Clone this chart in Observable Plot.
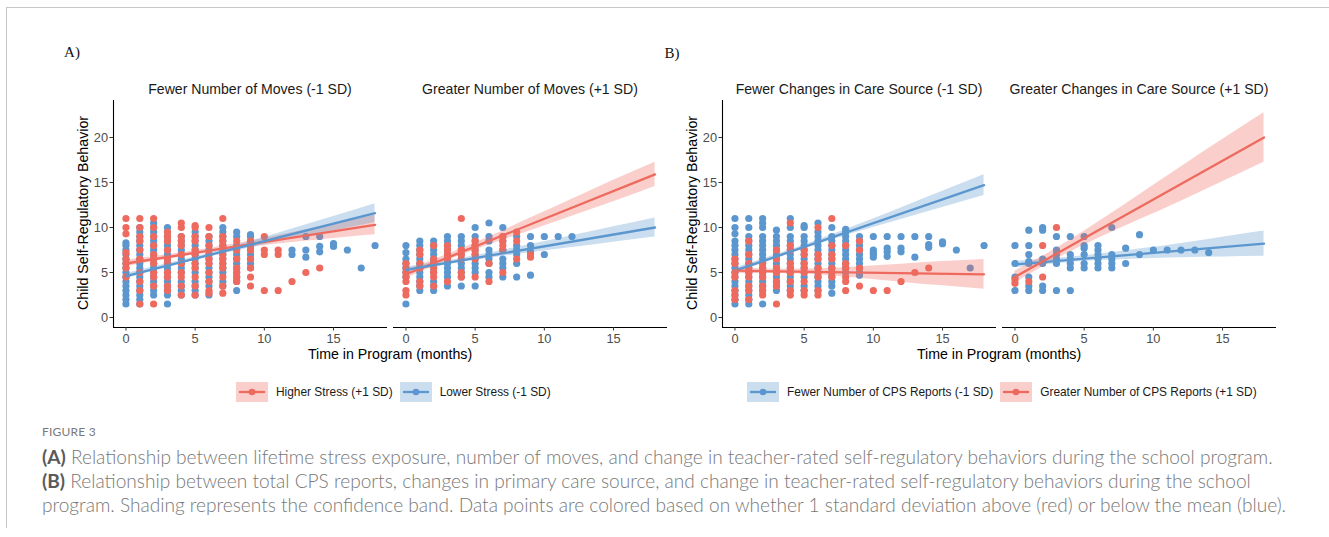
<!DOCTYPE html>
<html><head><meta charset="utf-8">
<script src="https://cdn.jsdelivr.net/npm/d3@7"></script>
<script src="https://cdn.jsdelivr.net/npm/@observablehq/plot@0.6"></script>
<style>
html,body{margin:0;padding:0;background:#fff;}
#page{position:relative;width:1329px;height:537px;overflow:hidden;font-family:"Liberation Sans",Arial,sans-serif;}
.abs{position:absolute;white-space:nowrap;}
.c{transform:translate(-50%,-50%);line-height:1;}
#frame{position:absolute;left:6px;top:7px;width:1340px;height:520px;border-top:1px solid #c8c8c8;border-left:1px solid #c8c8c8;}
.cap{position:absolute;left:42px;white-space:nowrap;font-family:"Lato","Open Sans",sans-serif;font-weight:300;color:#787878;line-height:1;}
.cap b{font-weight:700;color:#5a5a5a;}
</style></head>
<body><div id="page"><div id="frame"></div></div>
<script>
const RED = "#EE6A5E", BLUE = "#5B97CE";
const xTicks = [0, 5, 10, 15];
const yTicks = [0, 5, 10, 15, 20];
const xDomain = [-0.9, 18.9];
const yDomain = [-1.11, 24.11];
const panelLabels = ["A)", "B)"];
const facetTitles = ["Fewer Number of Moves (-1 SD)", "Greater Number of Moves (+1 SD)",
  "Fewer Changes in Care Source (-1 SD)", "Greater Changes in Care Source (+1 SD)"];
const xTitle = "Time in Program (months)";
const yTitle = "Child Self-Regulatory Behavior";
const legendA = ["Higher Stress (+1 SD)", "Lower Stress (-1 SD)"];
const legendB = ["Fewer Number of CPS Reports (-1 SD)", "Greater Number of CPS Reports (+1 SD)"];
const captionHead = "FIGURE 3";
const captionLines = [
  ["(A)", " Relationship between lifetime stress exposure, number of moves, and change in teacher-rated self-regulatory behaviors during the school program."],
  ["(B)", " Relationship between total CPS reports, changes in primary care source, and change in teacher-rated self-regulatory behaviors during the school"],
  ["", "program. Shading represents the confidence band. Data points are colored based on whether 1 standard deviation above (red) or below the mean (blue)."]
];

// ---- points: [month, [values...]] ----
const a1Red = [[0,[11,10,9.3,7.2,6.5,6,5.5,4.5]],[1,[11,10,9,8.5,7.5,6.5,5,4,3,1.5]],[2,[11,10,9,8,7,6.5,6,5,4.5,3.5,1.5]],
  [3,[9.5,9,8.5,7.5,6.5,6,5,4.5,3.5,3]],[4,[10.5,10,9,8.5,8,7,6,5,4.5,3.5,2.5]],[5,[10.2,10,9,8.5,7.5,7,6,5.5,4.5,3.5,2.5]],
  [6,[10,9,8,7,6.5,6,5,4,3,2.7]],[7,[11,9,8.5,8,7,6.5,6,5.5,4.5,3.5,2.7]],[8,[8.5,7.5,6.5,5.5,5,4.5,4]],
  [9,[8.5,8,7.5,6.5,5.5,4.5,3.5]],[10,[9,7.5,7,3]],[11,[7.5,7,3]],[12,[4]],[13,[5]],[14,[5.5]]];
const a1Blue = [[0,[1.5,2,2.5,3,3.5,4,4.5,5,5.5,6,6.5,7,7.5,8,8.3]],[1,[1.5,2,2.5,3,3.5,4,4.5,5,5.5,6,6.5,7,7.5,8,8.5,9,9.5,10]],
  [2,[2.5,3,3.5,4,4.5,5,5.5,6,6.5,7,7.5,8,8.5,9,9.5,10,10.5]],[3,[1.5,2.5,3,3.5,4,4.5,5,5.5,6,6.5,7,7.5,8,8.5,9,9.5,10]],
  [4,[2.5,3,3.5,4,5,5.5,6,6.5,7,7.5,8,8.5,9]],[5,[2.5,3,3.5,4,5,5.5,6,6.5,7,7.5,8,8.5,9,9.5]],
  [6,[2.5,3.5,4,4.5,5,5.5,6,6.5,7,7.5,8,8.5,9]],[7,[3.5,4,5,5.5,6,6.5,7,7.5,8,8.5,9,9.5,10]],
  [8,[3,4,4.5,5,5.5,6,6.5,7,7.5,8,9,9.5]],[9,[5.5,6,6.5,7,7.5,8,8.5,9,9.2]],[12,[7.5,7]],[13,[9,7.5,6.7]],
  [14,[9,7.9,7.3]],[15,[8.2,7.9]],[16,[7.5]],[17,[5.5]],[18,[8]]];
const a2Red = [[0,[6,5.5,5,4.5,4,3,2.5]],[1,[7.5,7,6,5.5,4,3.5]],[2,[8,6.5,6,5.5,5,4.5,3.5]],[3,[8,7.5,7,6.5,4]],
  [4,[11,7.5,7,6.5,5,4.5]],[5,[8.5,8,7.5,7,6.5,4.5]],[6,[6,4]],[7,[9,8.5,8,7.5,5]],[8,[9.5,8.5,6.5]],[9,[7,6.7]]];
const a2Blue = [[0,[8,7.2,6.5,6,5.5,5,4.5,1.5]],[1,[8.5,8,7.5,7,6.5,6,5.5,5,4.5,4,3.5,3]],[2,[8.5,8,7.5,7,6.5,6,5.5,5,4,3.5,3]],
  [3,[9,8.5,8,7.5,7,6.5,6,5.5,5,4.5,3.5]],[4,[9,8.5,8,7.5,7,6,5.5,5,4.5,3.5]],[5,[10,9,8.5,8,7.5,7,6.5,6,5.5,5,3.5]],
  [6,[10.5,9,8.5,7.5,7,6.5,6,5,4.5]],[7,[10,9,8.5,7.5,6.5,6,5.5,4.5]],[8,[9,8,7.5,7,6,4.5]],[9,[9,8,7.3,4.7]],
  [10,[9,7]],[11,[9]],[12,[9]]];
const b1Blue = [[0,[11,10,9.3,8.5,8,7.5,7,6.5,6,5.5,5,4.5,4,3.5,3,2.5,2,1.5]],[1,[11,10,9,8.5,8,7.5,7,6.5,6,5.5,5,4.5,4,3.5,3,2.5,2,1.5]],
  [2,[11,10.5,10,9,8.5,8,7.5,7,6.5,6,5.5,5,4.5,4,3.5,3,1.5]],[3,[9.7,9,8.5,8,7.5,7,6.5,6,5.5,5,4.5,4,3.5,3]],
  [4,[11,10,9,8.5,8,7.5,7,6.5,6,5.5,5,4.5,4,3.5,3]],[5,[10.2,10,9,8.5,8,7.5,7,6.5,6,5.5,5,4.5,3.5,3]],
  [6,[10.5,9.5,9,8.5,8,7.5,7,6.5,6,5.5,5,4.5,4,3.5,3]],[7,[10,9,8.5,8,7.5,7,6.5,6,5.5,5,4.5,4,3.5,2.7]],
  [8,[9.8,9.5,9,8.5,8,7.5,7,6.5,6,5.5,5]],[9,[9,8.5,8,7.5,7,6.5,6,5.5,5,4.7]],[10,[9,7.5,7.2,7,6.7]],
  [11,[9,7.7,7.3,6.8]],[12,[9,7.7,7.3]],[13,[9,6.7]],[14,[9,8.1,7.8]],[15,[8.4,8.2]],[16,[7.5]],[17,[5.5]],[18,[8]]];
const b1Red = [[0,[6.5,6,5,4.5,3,2.5,2]],[1,[8.5,7,6,5.5,5,4.5,3.5,3,2]],[2,[6,5.5,5,4.5,3.5,3,2.5]],
  [3,[7.5,6.5,5.5,5,4,3.5,1.5]],[4,[10.5,8,7.5,6,5.5,5,4,3,2.5]],[5,[7.5,7,6,5.5,5,4,3,2.5]],
  [6,[10,7,6.5,5.5,5,4.5,3,2.5]],[7,[11,8,7,6.5,5.5,5,4.5]],[8,[8,6,5.5,4.5,4,3]],[9,[8.5,7.5,5.5,3.5]],
  [10,[3]],[11,[3]],[12,[4]],[13,[5]],[14,[5.5]]];
const b2Blue = [[0,[8,6,4.5,3]],[1,[9.7,8,7,6.2,6,4.5,3.5,3]],[2,[10,9.7,6.5,6,3.5,3]],[3,[9,7.5,7,6.5,6,3]],
  [4,[9,7,6.5,6,5.5,3]],[5,[9,8,7.7,7,6,5.5]],[6,[8,7.5,7,6.5,6,5.5]],[7,[10,7,6.5,6,5.5]],[8,[7.7,6]],
  [9,[9.2,7]],[10,[7.5]],[11,[7.5]],[12,[7.5]],[13,[7.5]],[14,[7.2]]];
const b2Red = [[0,[4.2,3.8]],[1,[4]],[2,[8,4.5]],[3,[10]]];

// ---- fitted lines (values at month 0 and 18) ----
const fitX = [0, 18];
const a1RedFit = [6.0, 10.3], a1BlueFit = [4.6, 11.6];
const a2RedFit = [4.8, 15.9], a2BlueFit = [5.3, 10.0];
const b1BlueFit = [5.2, 14.7], b1RedFit = [5.2, 4.8];
const b2RedFit = [4.5, 20.0], b2BlueFit = [5.9, 8.2];

// ---- confidence bands at months bandX ----
const bandX = [0, 3, 6, 9, 12, 15, 18];
const a1RedLo = [5.65, 6.47, 7.18, 7.80, 8.32, 8.78, 9.2],  a1RedHi = [6.35, 6.97, 7.68, 8.50, 9.42, 10.38, 11.4];
const a1BlueLo = [4.3, 5.55, 6.71, 7.75, 8.72, 9.63, 10.55], a1BlueHi = [4.9, 5.99, 7.15, 8.45, 9.82, 11.23, 12.65];
const a2RedLo = [4.35, 6.3, 8.05, 9.65, 11.25, 12.85, 14.55], a2RedHi = [5.25, 7.0, 8.95, 11.05, 13.15, 15.25, 17.25];
const a2BlueLo = [5.0, 5.86, 6.57, 7.2, 7.78, 8.37, 8.95],  a2BlueHi = [5.6, 6.3, 7.17, 8.1, 9.08, 10.07, 11.05];
const b1BlueLo = [4.9, 6.56, 8.12, 9.55, 10.88, 12.22, 13.55], b1BlueHi = [5.5, 7.0, 8.62, 10.35, 12.18, 14.02, 15.85];
const b1RedLo = [4.9, 4.88, 4.72, 4.35, 3.93, 3.52, 3.15],  b1RedHi = [5.5, 5.38, 5.42, 5.65, 5.93, 6.22, 6.45];
const b2RedLo = [3.85, 6.48, 8.77, 10.85, 12.93, 15.07, 17.25], b2RedHi = [5.15, 7.68, 10.57, 13.65, 16.73, 19.77, 22.75];
const b2BlueLo = [5.55, 5.98, 6.32, 6.5, 6.63, 6.72, 6.8],  b2BlueHi = [6.25, 6.58, 7.02, 7.6, 8.23, 8.92, 9.6];

const page = document.getElementById("page");
const FONT = '"Liberation Sans", Arial, sans-serif';

function addText(text, x, y, css) {
  const d = document.createElement("div");
  d.className = "abs c";
  d.textContent = text;
  d.style.left = x + "px"; d.style.top = y + "px";
  Object.assign(d.style, css || {});
  page.appendChild(d);
  return d;
}

const FACET_W = 274, FRAME_TOP = 100, FRAME_H = 227;

function facet(left, showY, groups) {
  const ml = showY ? 40 : 6, mr = 8, mb = 30;
  const pts = g => g.pts.flatMap(([x, ys]) => ys.map(y => ({x, y})));
  const band = g => bandX.map((x, i) => ({x, lo: g.lo[i], hi: g.hi[i]}));
  const fit = g => fitX.map((x, i) => ({x, y: g.fit[i]}));
  const marks = [];
  const byColor = [...groups].sort((a, b) => (a.color === BLUE ? -1 : 1) - (b.color === BLUE ? -1 : 1));
  for (const g of byColor) marks.push(Plot.dot(pts(g), {x: "x", y: "y", r: 3.6, fill: g.color, stroke: "none"}));
  for (const g of groups) marks.push(Plot.areaY(band(g), {x: "x", y1: "lo", y2: "hi", fill: g.color, fillOpacity: 0.32, curve: "natural"}));
  for (const g of groups) marks.push(Plot.line(fit(g), {x: "x", y: "y", stroke: g.color, strokeWidth: 2.3}));
  marks.push(Plot.ruleY([yDomain[0]], {stroke: "#000", strokeWidth: 1.1}));
  marks.push(Plot.axisX({ticks: xTicks, tickSize: 3.5, tickPadding: 2.5, stroke: "#333", fill: "#4d4d4d", fontSize: 12.8, label: null}));
  if (showY) {
    marks.push(Plot.ruleX([xDomain[0]], {stroke: "#000", strokeWidth: 1.1}));
    marks.push(Plot.axisY({ticks: yTicks, tickSize: 3.5, tickPadding: 2, stroke: "#333", fill: "#4d4d4d", fontSize: 12.8, label: null}));
  }
  const svg = Plot.plot({
    width: ml + FACET_W + mr, height: FRAME_H + mb,
    marginLeft: ml, marginRight: mr, marginTop: 0, marginBottom: mb,
    x: {domain: xDomain, label: null},
    y: {domain: yDomain, label: null, axis: showY ? undefined : null},
    style: {fontFamily: FONT, fontSize: "12.8px", background: "transparent", overflow: "visible"},
    marks
  });
  svg.style.position = "absolute";
  svg.style.left = (left - ml) + "px";
  svg.style.top = FRAME_TOP + "px";
  page.appendChild(svg);
}

const facetLefts = [113, 393, 722, 1002];
facet(facetLefts[0], true,  [{pts: a1Red, fit: a1RedFit, lo: a1RedLo, hi: a1RedHi, color: RED},
                             {pts: a1Blue, fit: a1BlueFit, lo: a1BlueLo, hi: a1BlueHi, color: BLUE}]);
facet(facetLefts[1], false, [{pts: a2Red, fit: a2RedFit, lo: a2RedLo, hi: a2RedHi, color: RED},
                             {pts: a2Blue, fit: a2BlueFit, lo: a2BlueLo, hi: a2BlueHi, color: BLUE}]);
facet(facetLefts[2], true,  [{pts: b1Blue, fit: b1BlueFit, lo: b1BlueLo, hi: b1BlueHi, color: BLUE},
                             {pts: b1Red, fit: b1RedFit, lo: b1RedLo, hi: b1RedHi, color: RED}]);
facet(facetLefts[3], false, [{pts: b2Blue, fit: b2BlueFit, lo: b2BlueLo, hi: b2BlueHi, color: BLUE},
                             {pts: b2Red, fit: b2RedFit, lo: b2RedLo, hi: b2RedHi, color: RED}]);

facetTitles.forEach((t, i) => addText(t, facetLefts[i] + FACET_W / 2, 89, {fontSize: "14.1px", color: "#1a1a1a", fontFamily: FONT}));
addText(panelLabels[0], 72, 52, {fontFamily: '"Liberation Serif", serif', fontSize: "15px", color: "#111"});
addText(panelLabels[1], 672, 53, {fontFamily: '"Liberation Serif", serif', fontSize: "15px", color: "#111"});
addText(xTitle, 390, 354, {fontSize: "14.2px", color: "#000", fontFamily: FONT});
addText(xTitle, 999, 354, {fontSize: "14.2px", color: "#000", fontFamily: FONT});
addText(yTitle, 83, 213, {fontSize: "14.2px", color: "#000", fontFamily: FONT, transform: "translate(-50%,-50%) rotate(-90deg)"});
addText(yTitle, 692, 213, {fontSize: "14.2px", color: "#000", fontFamily: FONT, transform: "translate(-50%,-50%) rotate(-90deg)"});

function legend(left, items) {
  const div = document.createElement("div");
  div.className = "abs";
  Object.assign(div.style, {left: left + "px", top: "382px", display: "flex", alignItems: "center", fontFamily: FONT, fontSize: "11.9px", color: "#1a1a1a"});
  items.forEach(([label, color], i) => {
    const key = d3.create("svg").attr("width", 32).attr("height", 20).style("display", "block");
    key.append("rect").attr("width", 32).attr("height", 20).attr("fill", color).attr("fill-opacity", 0.32);
    key.append("line").attr("x1", 3).attr("x2", 29).attr("y1", 10).attr("y2", 10).attr("stroke", color).attr("stroke-width", 2.3);
    key.append("circle").attr("cx", 16).attr("cy", 10).attr("r", 3.3).attr("fill", color);
    div.appendChild(key.node());
    const s = document.createElement("span");
    s.textContent = label;
    s.style.marginLeft = "8px";
    s.style.marginRight = i === 0 ? "7px" : "0";
    div.appendChild(s);
  });
  page.appendChild(div);
}
legend(236, [[legendA[0], RED], [legendA[1], BLUE]]);
legend(747, [[legendB[0], BLUE], [legendB[1], RED]]);

const head = document.createElement("div");
head.className = "cap";
head.textContent = captionHead;
Object.assign(head.style, {top: "426px", fontSize: "12px", letterSpacing: "0.2px", color: "#7a7a7a", fontWeight: "400"});
page.appendChild(head);
const capDivs = captionLines.map(([b, t], i) => {
  const d = document.createElement("div");
  d.className = "cap";
  d.style.top = (447 + i * 24) + "px";
  d.style.fontSize = "16px";
  if (b) { const bb = document.createElement("b"); bb.textContent = b; d.appendChild(bb); }
  d.appendChild(document.createTextNode(t));
  page.appendChild(d);
  return d;
});
const w0 = capDivs[0].getBoundingClientRect().width;
const fs = 16 * 1231 / w0;
capDivs.forEach(d => d.style.fontSize = fs.toFixed(2) + "px");
</script>
</body></html>
